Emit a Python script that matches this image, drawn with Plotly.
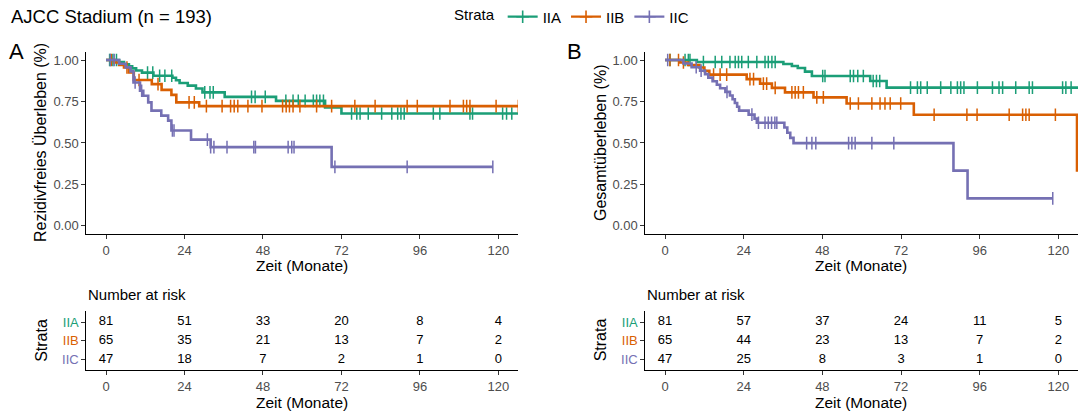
import numpy as np
import plotly.graph_objects as go

W, H = 1078, 415

STRATA = ["IIA", "IIB", "IIC"]
COLORS = {"IIA": "#1B9E77", "IIB": "#D95F02", "IIC": "#7570B3"}
TIME_BREAKS = [0, 24, 48, 72, 96, 120]
Y_BREAKS = [0, 0.25, 0.5, 0.75, 1.0]

# ---------- Panel A: Rezidivfreies Überleben ----------
rfs_IIA_t = [0, 4, 5.5, 7, 8, 9.2, 11, 14.5, 20.3, 21.4, 22.5, 25, 27.5, 29.5, 36.3, 52, 67, 72]
rfs_IIA_s = [1, .988, .975, .962, .95, .937, .924, .905, .893, .878, .862, .846, .828, .805, .778, .754, .714, .678]
rfs_IIA_cens = [1.1, 2.1, 3.2, 12.7, 14.3, 16.4, 18, 20.1, 30.2, 31.8, 32.8, 44.5, 45.6, 48.7, 55, 57.2, 58.8,
                60.9, 63.4, 64.4, 65.4, 66.5, 75.1, 76.7, 77.7, 80.2, 84.3, 87.4, 89.2, 90.2, 91.2, 100.1,
                102.1, 111.3, 112.1, 121.3, 122.5, 124.1]
rfs_IIA_end = 127

rfs_IIB_t = [0, 2.5, 4, 5.5, 7, 8.5, 14, 17, 20, 21.5, 28.5]
rfs_IIB_s = [1, .985, .97, .955, .925, .88, .855, .82, .79, .745, .722]
rfs_IIB_cens = [1.6, 6.4, 10.1, 15.9, 25.4, 27, 30.7, 35.5, 38.1, 39.2, 40.3, 43.4, 47.7, 54, 55.1, 56.1, 57.2,
                59.3, 64.4, 69, 76.1, 82.3, 92.1, 95.2, 105.2, 109.3, 110.3, 111.3, 119.3, 126.1]
rfs_IIB_end = 127

rfs_IIC_t = [0, 4, 6, 7.5, 8.4, 10.4, 11.4, 12.9, 13.9, 16.9, 19, 20, 26, 32, 69]
rfs_IIC_s = [1, .978, .956, .932, .865, .815, .785, .745, .695, .665, .635, .575, .52, .475, .356]
rfs_IIC_cens = [1.3, 2.5, 8.9, 10.9, 20.3, 20.8, 31, 32, 33, 37, 45.2, 45.7, 55.7, 56.8, 57.5, 70, 92.1, 118.3]
rfs_IIC_end = 118.3

risk_rfs_IIA = [81, 51, 33, 20, 8, 4]
risk_rfs_IIB = [65, 35, 21, 13, 7, 2]
risk_rfs_IIC = [47, 18, 7, 2, 1, 0]

# ---------- Panel B: Gesamtüberleben ----------
os_IIA_t = [0, 9.7, 36.1, 38.7, 40.5, 42.7, 44.8, 62.6, 67.6]
os_IIA_s = [1, .988, .976, .964, .952, .93, .904, .874, .834]
os_IIA_cens = [1.5, 6.1, 7.1, 7.6, 11.7, 15.3, 17.3, 19.8, 21.4, 22.4, 23.4, 25.4, 28, 30.5, 31.5, 32.6, 33.6,
               48.1, 48.8, 56.5, 57.5, 58.8, 60.5, 63.5, 64.5, 65.5, 74.9, 77, 78, 80, 84.1, 87.2, 89.2, 90.2,
               91.2, 95.3, 99.9, 101.9, 103, 107, 111.1, 112.1, 121.3, 122.3, 123.9]
os_IIA_end = 127

os_IIB_t = [0, 4.5, 7, 10.5, 12, 13.5, 24.9, 29, 32.6, 36.6, 45.3, 55.4, 75.9, 125.7]
os_IIB_s = [1, .985, .97, .955, .935, .912, .885, .858, .832, .805, .775, .738, .67, .335]
os_IIB_cens = [1.5, 4.1, 5.6, 14.8, 16.8, 18.8, 25.9, 27, 30, 31, 33.6, 38.7, 39.7, 40.7, 42.2, 46.3, 48.3,
               56.5, 59, 63.1, 65.6, 67.1, 68.7, 71.9, 82.1, 92.1, 95.2, 105, 109.1, 110.1, 111.1, 119.1]
os_IIB_end = 127

os_IIC_t = [0, 5.6, 8.1, 10.7, 12.2, 13.2, 14.5, 15.8, 16.8, 18.4, 19.8, 20.6, 21.3, 22, 22.6, 25.5, 27.3,
            28, 36.4, 37.3, 38.2, 39.2, 88, 92.3]
os_IIC_s = [1, .979, .957, .936, .915, .894, .872, .851, .83, .808, .786, .764, .741, .718, .695, .671, .647,
            .622, .593, .562, .531, .499, .333, .166]
os_IIC_cens = [0.8, 9.5, 11, 18.9, 26.5, 28.5, 30.5, 31.5, 32.5, 33.5, 34.1, 43.2, 44.8, 46, 56, 57, 58,
               63.1, 69.8, 118.3]
os_IIC_end = 118.3

risk_os_IIA = [81, 57, 37, 24, 11, 5]
risk_os_IIB = [65, 44, 23, 13, 7, 2]
risk_os_IIC = [47, 25, 8, 3, 1, 0]

FONT = "Liberation Sans, Arial, Helvetica, sans-serif"

panels = [
    dict(curves={"IIA": (rfs_IIA_t, rfs_IIA_s, rfs_IIA_cens, rfs_IIA_end),
                 "IIB": (rfs_IIB_t, rfs_IIB_s, rfs_IIB_cens, rfs_IIB_end),
                 "IIC": (rfs_IIC_t, rfs_IIC_s, rfs_IIC_cens, rfs_IIC_end)},
         risk={"IIA": risk_rfs_IIA, "IIB": risk_rfs_IIB, "IIC": risk_rfs_IIC},
         xa="x", ya="y", xt="x3", yt="y3"),
    dict(curves={"IIA": (os_IIA_t, os_IIA_s, os_IIA_cens, os_IIA_end),
                 "IIB": (os_IIB_t, os_IIB_s, os_IIB_cens, os_IIB_end),
                 "IIC": (os_IIC_t, os_IIC_s, os_IIC_cens, os_IIC_end)},
         risk={"IIA": risk_os_IIA, "IIB": risk_os_IIB, "IIC": risk_os_IIC},
         xa="x2", ya="y2", xt="x4", yt="y4"),
]

ROW = {"IIA": 3, "IIB": 2, "IIC": 1}


def surv_at(t_ev, s_ev, tt):
    idx = np.searchsorted(np.asarray(t_ev), np.asarray(tt), side="right") - 1
    return np.asarray(s_ev)[idx]


fig = go.Figure()

for p in panels:
    for st in STRATA:
        t, s, cens, end = p["curves"][st]
        col = COLORS[st]
        fig.add_trace(go.Scatter(
            x=list(t) + [end], y=list(s) + [s[-1]], mode="lines",
            line=dict(color=col, width=2.6, shape="hv"),
            xaxis=p["xa"], yaxis=p["ya"], showlegend=False, hoverinfo="skip"))
        fig.add_trace(go.Scatter(
            x=cens, y=surv_at(t, s, cens), mode="markers",
            marker=dict(symbol="line-ns", size=9, line=dict(color=col, width=1.5)),
            xaxis=p["xa"], yaxis=p["ya"], showlegend=False, hoverinfo="skip"))
        fig.add_trace(go.Scatter(
            x=TIME_BREAKS, y=[ROW[st]] * len(TIME_BREAKS), mode="text",
            text=[str(v) for v in p["risk"][st]],
            textfont=dict(family=FONT, size=13, color="black"),
            textposition="middle center", cliponaxis=False,
            xaxis=p["xt"], yaxis=p["yt"], showlegend=False, hoverinfo="skip"))

# legend entries
for st in STRATA:
    fig.add_trace(go.Scatter(
        x=[None], y=[None], mode="lines+markers", name=st,
        line=dict(color=COLORS[st], width=2.3),
        marker=dict(symbol="cross-thin", size=9, line=dict(color=COLORS[st], width=1.6)),
        xaxis="x", yaxis="y"))


def fx(px):
    return px / W


def fy(py):
    return 1 - py / H


axis_common = dict(showline=True, linecolor="black", linewidth=1.2, ticks="outside", ticklen=4,
                   tickwidth=1, tickcolor="#333333", showgrid=False, zeroline=False,
                   tickfont=dict(family=FONT, size=13, color="#4D4D4D"))

A_X = [fx(86.4), fx(518)]
B_X = [fx(645.4), 1.0]
TOP_Y = [fy(233.3), fy(50)]
TAB_Y = [fy(370), fy(310.7)]

strata_ticktext = ['<span style="color:%s">%s</span>' % (COLORS[s], s) for s in STRATA]

layout_axes = {}
for xname, yname, xd, yd, kind in [("xaxis", "yaxis", A_X, TOP_Y, "top"),
                                   ("xaxis2", "yaxis2", B_X, TOP_Y, "top"),
                                   ("xaxis3", "yaxis3", A_X, TAB_Y, "tab"),
                                   ("xaxis4", "yaxis4", B_X, TAB_Y, "tab")]:
    xi = xname.replace("xaxis", "x") or "x"
    yi = yname.replace("yaxis", "y") or "y"
    layout_axes[xname] = dict(axis_common, domain=xd, range=[-6, 126], tickvals=TIME_BREAKS,
                              anchor=yi)
    if kind == "top":
        layout_axes[yname] = dict(axis_common, domain=yd, range=[-0.05, 1.05], tickvals=Y_BREAKS,
                                  tickformat=".2f", anchor=xi)
    else:
        layout_axes[yname] = dict(axis_common, domain=yd, range=[0.43, 3.585],
                                  tickvals=[ROW[s] for s in STRATA], ticktext=strata_ticktext,
                                  anchor=xi)

ann = []


def add_text(text, px, py, size, xanchor="center", angle=0, color="black"):
    ann.append(dict(text=text, x=fx(px), y=fy(py), xref="paper", yref="paper", showarrow=False,
                    xanchor=xanchor, yanchor="middle", textangle=angle,
                    font=dict(family=FONT, size=size, color=color)))


add_text("AJCC Stadium (n = 193)", 9, 15, 18.5, xanchor="left")
add_text("A", 16, 50, 22)
add_text("B", 574, 50, 22)
add_text("Rezidivfreies Überleben (%)", 40, 141.7, 16, angle=-90)
add_text("Gesamtüberleben (%)", 600, 141.7, 16, angle=-90)
add_text("Zeit (Monate)", 302, 265, 15.5)
add_text("Zeit (Monate)", 861, 265, 15.5)
add_text("Number at risk", 86, 293.5, 15, xanchor="left")
add_text("Number at risk", 645, 293.5, 15, xanchor="left")
add_text("Strata", 41.5, 340, 16, angle=-90)
add_text("Strata", 600, 340, 16, angle=-90)
add_text("Zeit (Monate)", 302, 402, 15.5)
add_text("Zeit (Monate)", 861, 402, 15.5)

fig.update_layout(
    width=W, height=H, margin=dict(l=0, r=0, t=0, b=0),
    paper_bgcolor="white", plot_bgcolor="white",
    font=dict(family=FONT, size=13, color="black"),
    showlegend=True,
    legend=dict(orientation="h", x=fx(452), xanchor="left", y=fy(15), yanchor="middle",
                title=dict(text="Strata", font=dict(family=FONT, size=15)),
                font=dict(family=FONT, size=15), itemwidth=30, bgcolor="rgba(0,0,0,0)",
                tracegroupgap=0),
    annotations=ann,
    **layout_axes,
)

fig.write_html("out.html")
